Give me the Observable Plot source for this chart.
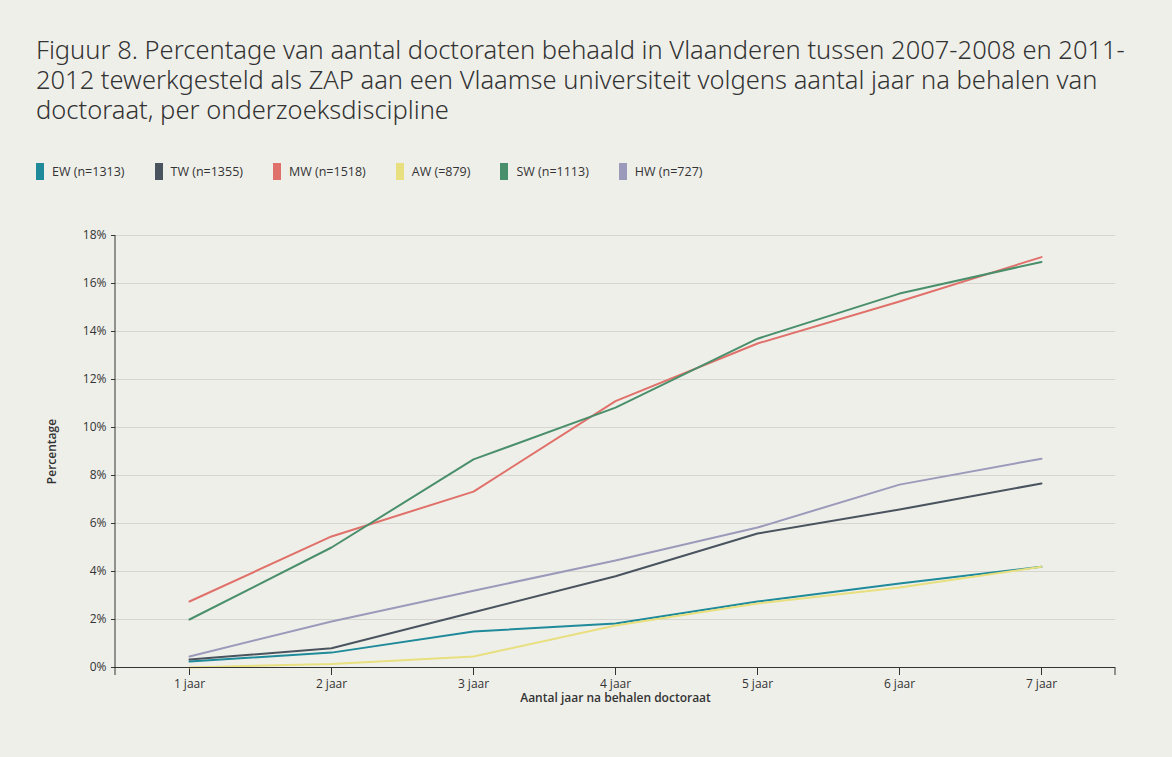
<!DOCTYPE html>
<html><head><meta charset="utf-8">
<script src="https://cdn.jsdelivr.net/npm/d3@7"></script>
<script src="https://cdn.jsdelivr.net/npm/@observablehq/plot@0.6"></script>
<style>
body{margin:0;background:#efefea;font-family:"Open Sans",sans-serif;}
#wrap{position:relative;width:1172px;height:757px;background:#efefea;}
#title{position:absolute;left:36px;top:34px;width:1110px;font-size:25.5px;line-height:30px;color:#333;font-family:"Noto Sans",sans-serif;font-weight:300;}
#legend{position:absolute;left:36px;top:163px;font-size:12.5px;color:#333;display:flex;gap:0;}
#legend span{display:inline-flex;align-items:center;margin-right:30px;}
#legend i{display:inline-block;width:8px;height:17px;margin-right:8px;}
#chart{position:absolute;left:0;top:0;}
</style></head><body>
<div id="wrap">
<div id="title">Figuur 8. Percentage van aantal doctoraten behaald in Vlaanderen tussen 2007-2008 en 2011-2012 tewerkgesteld als ZAP aan een Vlaamse universiteit volgens aantal jaar na behalen van doctoraat, per onderzoeksdiscipline</div>
<div id="legend"></div>
<div id="chart"></div>
</div>
<script>
const years = ["1 jaar","2 jaar","3 jaar","4 jaar","5 jaar","6 jaar","7 jaar"];
const seriesNames = ["EW (n=1313)","TW (n=1355)","MW (n=1518)","AW (=879)","SW (n=1113)","HW (n=727)"];
const colors = ["#1f8a9a","#4a545f","#e0716a","#e8df7e","#4a8f6b","#9c9aba"];
const EW = [0.25,0.62,1.5,1.83,2.75,3.5,4.2];
const TW = [0.33,0.8,2.3,3.8,5.58,6.58,7.67];
const MW = [2.75,5.46,7.33,11.1,13.5,15.25,17.1];
const AW = [0.0,0.15,0.46,1.75,2.67,3.33,4.2];
const SW = [2.0,5.0,8.67,10.83,13.7,15.58,16.9];
const HW = [0.46,1.92,3.2,4.46,5.83,7.62,8.7];
const allSeries = [EW,TW,MW,AW,SW,HW];
const yTicks = [0,2,4,6,8,10,12,14,16,18];

const data = [];
allSeries.forEach((s,i)=>s.forEach((v,j)=>data.push({series:seriesNames[i],year:years[j],value:v})));

const leg = document.getElementById("legend");
seriesNames.forEach((n,i)=>{const s=document.createElement("span");s.innerHTML=`<i style="background:${colors[i]}"></i>${n}`;leg.appendChild(s);});

const chart = Plot.plot({
  width:1172,height:757,
  marginTop:235,marginBottom:90,marginLeft:115,marginRight:57,
  style:{background:"transparent",fontSize:"12px",fontFamily:"Open Sans, sans-serif",color:"#333"},
  x:{type:"point",domain:years,padding:0.5,label:null},
  y:{domain:[0,18],label:null},
  color:{domain:seriesNames,range:colors},
  marks:[
    Plot.gridY(yTicks,{stroke:"#d6d6d0",strokeOpacity:1}),
    Plot.axisY(yTicks,{tickFormat:d=>d+"%",tickSize:4,stroke:"#333",label:null}),
    Plot.axisX({tickSize:8,tickPadding:4,label:null}),
    Plot.lineY(data,{x:"year",y:"value",stroke:"series",strokeWidth:2}),
    Plot.ruleY([0],{stroke:"#333"}),
    Plot.text(["Percentage"],{frameAnchor:"left",dx:-63,rotate:-90,textAnchor:"middle",fontSize:12,fontWeight:600}),
    Plot.text(["Aantal jaar na behalen doctoraat"],{frameAnchor:"bottom",dy:34,fontSize:12,fontWeight:600})
  ]
});
document.getElementById("chart").appendChild(chart);
const svg=d3.select(chart);
svg.append("line").attr("x1",115).attr("x2",115).attr("y1",235).attr("y2",667).attr("stroke","#333");
svg.append("line").attr("x1",1115).attr("x2",1115).attr("y1",667).attr("y2",675).attr("stroke","#333");
svg.append("line").attr("x1",115).attr("x2",115).attr("y1",667).attr("y2",675).attr("stroke","#333");
</script>
</body></html>
